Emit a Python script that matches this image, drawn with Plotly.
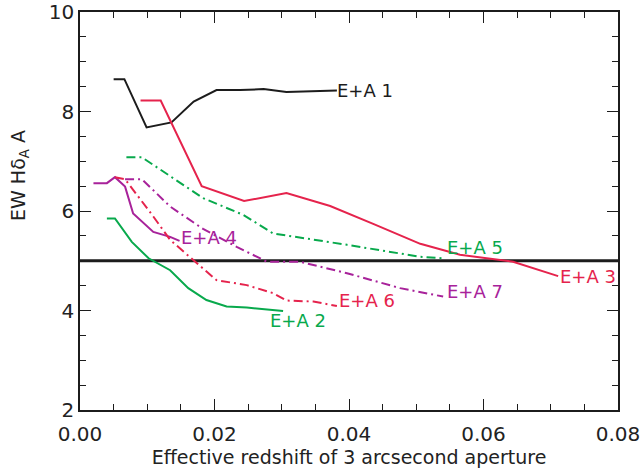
import plotly.graph_objects as go

# Effective redshift of the 3" aperture and the EW(HdeltaA) measured in it
ea1_z = [0.0050, 0.0066, 0.0099, 0.0136, 0.0169, 0.0203, 0.0238, 0.0273, 0.0307, 0.0342, 0.0382]
ea1_ew = [8.65, 8.65, 7.68, 7.78, 8.20, 8.43, 8.43, 8.45, 8.39, 8.41, 8.42]

ea2_z = [0.0040, 0.0052, 0.0077, 0.0102, 0.0134, 0.0161, 0.0188, 0.0218, 0.0248, 0.0302]
ea2_ew = [5.85, 5.85, 5.38, 5.05, 4.81, 4.45, 4.21, 4.08, 4.06, 3.99]

ea3_z = [0.0090, 0.0120, 0.0181, 0.0244, 0.0307, 0.0372, 0.0436, 0.0506, 0.0565, 0.0644, 0.0711]
ea3_ew = [8.22, 8.22, 6.50, 6.20, 6.36, 6.10, 5.74, 5.34, 5.12, 4.98, 4.69]

ea4_z = [0.0020, 0.0040, 0.0052, 0.0067, 0.0079, 0.0109, 0.0134, 0.0148]
ea4_ew = [6.56, 6.56, 6.68, 6.49, 5.95, 5.58, 5.48, 5.40]

ea5_z = [0.0069, 0.0092, 0.0183, 0.0243, 0.0287, 0.0327, 0.0397, 0.0506, 0.0540]
ea5_ew = [7.08, 7.08, 6.26, 5.92, 5.55, 5.47, 5.32, 5.08, 5.05]

ea6_z = [0.0052, 0.0067, 0.0109, 0.0134, 0.0168, 0.0203, 0.0248, 0.0287, 0.0307, 0.0347, 0.0382]
ea6_ew = [6.68, 6.64, 5.89, 5.42, 5.02, 4.61, 4.51, 4.35, 4.20, 4.18, 4.09]

ea7_z = [0.0067, 0.0092, 0.0134, 0.0183, 0.0233, 0.0278, 0.0327, 0.0397, 0.0476, 0.0540]
ea7_ew = [6.64, 6.64, 6.09, 5.64, 5.28, 4.98, 4.98, 4.75, 4.45, 4.28]

ew_threshold = 5.0

# Label text and anchor point for each galaxy
label_names = ["E+A 1", "E+A 2", "E+A 3", "E+A 4", "E+A 5", "E+A 6", "E+A 7"]
label_z = [0.0379, 0.0280, 0.0711, 0.0147, 0.0543, 0.0382, 0.0543]
label_ew = [8.43, 3.79, 4.68, 5.46, 5.27, 4.20, 4.38]

BLACK = "#1c1c1c"
RED = "#e5234c"
GREEN = "#08a94c"
MAGENTA = "#a8229a"
DASHDOT = "9px,4px,2px,4px"

series = [
    (ea1_z, ea1_ew, BLACK, "solid"),
    (ea2_z, ea2_ew, GREEN, "solid"),
    (ea3_z, ea3_ew, RED, "solid"),
    (ea4_z, ea4_ew, MAGENTA, "solid"),
    (ea5_z, ea5_ew, GREEN, DASHDOT),
    (ea6_z, ea6_ew, RED, DASHDOT),
    (ea7_z, ea7_ew, MAGENTA, DASHDOT),
]
label_colors = [BLACK, GREEN, RED, MAGENTA, GREEN, RED, MAGENTA]

X_RANGE = [0, 0.08]
Y_RANGE = [2, 10]

fig = go.Figure()

# EW = 5 A selection threshold
fig.add_trace(go.Scatter(x=X_RANGE, y=[ew_threshold, ew_threshold], mode="lines",
                         line=dict(color=BLACK, width=3), showlegend=False))

for z, ew, col, dash in series:
    fig.add_trace(go.Scatter(x=z, y=ew, mode="lines",
                             line=dict(color=col, width=2, dash=dash),
                             showlegend=False))

for name, zx, ey, col in zip(label_names, label_z, label_ew, label_colors):
    fig.add_annotation(x=zx, y=ey, text=name, showarrow=False, xanchor="left",
                       yanchor="middle", font=dict(color=col, size=18))

fig.add_annotation(x=-0.1115, y=0.588, xref="paper", yref="paper",
                   text="EW Hδ<sub>A</sub> A", textangle=-90, showarrow=False,
                   xanchor="center", yanchor="middle",
                   font=dict(size=19, color="#222"))

tick_style = dict(
    showgrid=False, zeroline=False, showline=True, linecolor=BLACK, linewidth=1.5,
    ticks="inside", ticklen=11, tickwidth=1.2, tickcolor=BLACK, automargin=False,
)

fig.update_xaxes(range=X_RANGE, dtick=0.02, tick0=0, tickformat=".2f",
                 minor=dict(dtick=0.005, ticks="inside", ticklen=6, tickcolor=BLACK),
                 tickfont=dict(size=20, color="#222"), ticklabelstandoff=5,
                 title=dict(text="Effective redshift of 3 arcsecond aperture",
                            font=dict(size=19, color="#222"), standoff=6),
                 **tick_style)
fig.update_yaxes(range=Y_RANGE, dtick=2, tick0=2,
                 minor=dict(dtick=0.5, ticks="inside", ticklen=6, tickcolor=BLACK),
                 tickfont=dict(size=20, color="#222"),
                 **tick_style)

# Mirrored frame: top and right axes carrying the same ticks, without labels
fig.update_layout(
    xaxis2=dict(overlaying="x", side="top", range=X_RANGE, dtick=0.02, tick0=0,
                showticklabels=False,
                minor=dict(dtick=0.005, ticks="inside", ticklen=6, tickcolor=BLACK),
                **tick_style),
    yaxis2=dict(overlaying="y", side="right", range=Y_RANGE, dtick=2, tick0=2,
                showticklabels=False,
                minor=dict(dtick=0.5, ticks="inside", ticklen=6, tickcolor=BLACK),
                **tick_style),
)
fig.add_trace(go.Scatter(x=X_RANGE, y=Y_RANGE, xaxis="x2", yaxis="y2", mode="lines",
                         line=dict(width=0), hoverinfo="skip", showlegend=False))

fig.update_layout(
    width=644, height=473,
    margin=dict(l=80, r=26, t=12, b=63),
    paper_bgcolor="white", plot_bgcolor="white",
    font=dict(family="DejaVu Sans", color="#222"),
)

fig.write_html("out.html")
